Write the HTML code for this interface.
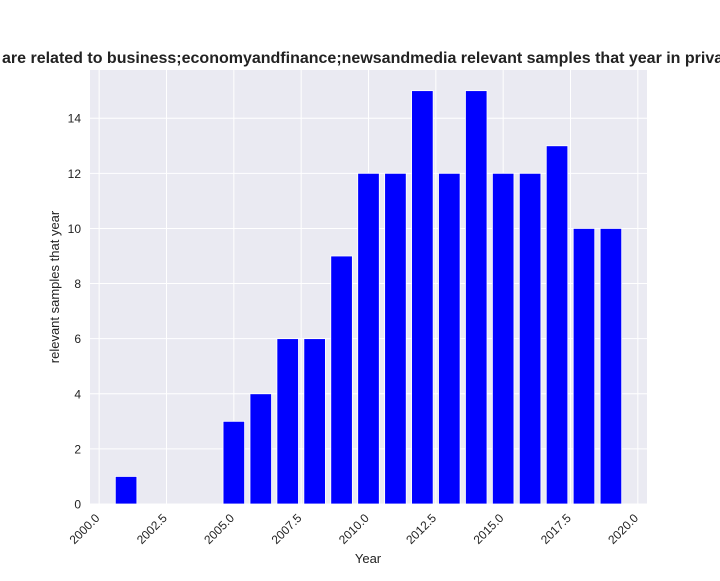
<!DOCTYPE html>
<html><head><meta charset="utf-8"><style>
body{margin:0;background:#fff;width:720px;height:576px;overflow:hidden}
svg{font-family:"Liberation Sans",Arial,sans-serif}
</style></head><body>
<svg id="chart" width="720" height="576">
<rect x="90" y="70" width="557" height="434" fill="#eaeaf2"/>
<g id="grid"></g><g id="bars"></g><g id="ticks"></g>
<text x="2" y="63" font-size="16" font-weight="bold" fill="#222">are related to business;economyandfinance;newsandmedia relevant samples that year in privacy policies</text>
<text x="368" y="563" font-size="13" text-anchor="middle" fill="#222">Year</text>
<text transform="translate(59,287) rotate(-90)" font-size="13" text-anchor="middle" fill="#222">relevant samples that year</text>
</svg>
<script>
const years=[2001,2005,2006,2007,2008,2009,2010,2011,2012,2013,2014,2015,2016,2017,2018,2019];
const counts=[1,3,4,6,6,9,12,12,15,12,15,12,12,13,10,10];
const xTicks=[2000,2002.5,2005,2007.5,2010,2012.5,2015,2017.5,2020];
const yTicks=[0,2,4,6,8,10,12,14];
const NS="http://www.w3.org/2000/svg";
const X0=90,X1=647,Y0=504,Y1=70;
const xmin=Math.min(...years)-0.4-0.94,xmax=Math.max(...years)+0.4+0.94;
const ymax=Math.max(...counts)*1.05;
const sx=v=>X0+(v-xmin)/(xmax-xmin)*(X1-X0);
const sy=v=>Y0-v/ymax*(Y0-Y1);
function mk(t,a,p){const e=document.createElementNS(NS,t);for(const k in a)e.setAttribute(k,a[k]);p.appendChild(e);return e;}
const g=document.getElementById('grid'),b=document.getElementById('bars'),tk=document.getElementById('ticks');
xTicks.forEach(v=>{const l=mk('line',{x1:sx(v),x2:sx(v),y1:Y1,y2:Y0,stroke:'#fff','stroke-width':1},g);


const x=sx(v),y=516;
const t=mk('text',{x:x,y:y,'font-size':12,fill:'#222','text-anchor':'end',transform:`rotate(-45 ${x+4} ${y})`},tk);
t.textContent=v.toFixed(1);

});
yTicks.forEach(v=>{const l=mk('line',{x1:X0,x2:X1,y1:sy(v),y2:sy(v),stroke:'#fff','stroke-width':1},g);


const t=mk('text',{x:81,y:sy(v)+4.5,'font-size':12,fill:'#222','text-anchor':'end'},tk);
t.textContent=v;

});
years.forEach((yr,i)=>{const r=mk('rect',{x:sx(yr-0.4),width:sx(yr+0.4)-sx(yr-0.4),y:sy(counts[i]),height:Y0-sy(counts[i]),fill:'#0000ff',stroke:'#fff','stroke-width':0.8},b);

});
</script>
</body></html>
